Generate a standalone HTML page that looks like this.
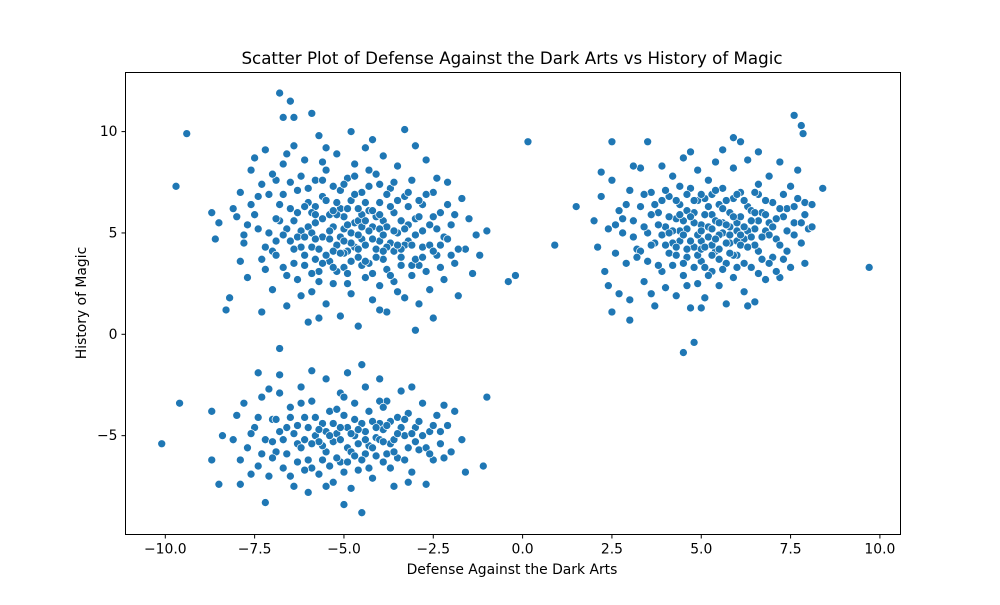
<!DOCTYPE html>
<html><head><meta charset="utf-8"><style>
body{margin:0;background:#fff;font-family:"Liberation Sans","DejaVu Sans",sans-serif}
svg text{font-family:"DejaVu Sans","Liberation Sans",sans-serif;fill:#000}
</style></head><body>
<svg id="chart" width="1000" height="600" xmlns="http://www.w3.org/2000/svg">
<rect width="1000" height="600" fill="#fff"/>
<text x="512" y="64" font-size="16.7" text-anchor="middle">Scatter Plot of Defense Against the Dark Arts vs History of Magic</text>
<g id="points"></g>
<rect x="125.5" y="72.5" width="775" height="462" fill="none" stroke="#000" stroke-width="1"/>
<g id="ticks"></g>
<text x="512" y="574" font-size="13.9" text-anchor="middle">Defense Against the Dark Arts</text>
<text transform="translate(86,303) rotate(-90)" font-size="13.9" text-anchor="middle">History of Magic</text>
</svg>
<script>
const xTicks=[-10,-7.5,-5,-2.5,0,2.5,5,7.5,10];
const xTickLabels=["−10.0","−7.5","−5.0","−2.5","0.0","2.5","5.0","7.5","10.0"];
const yTicks=[-5,0,5,10];
const yTickLabels=["−5","0","5","10"];
const points=[
[-9.7,7.3],[-9.4,9.9],[-8.7,6],[-8.6,4.7],[-8.2,1.8],[-8.3,1.2],[-6.8,11.9],[-6.5,11.5],[-6.7,10.7],[-6.4,10.7],[-5.9,10.9],[-4.8,10],[-3.3,10.1],[-1,5.1],[-1.2,3.9],[-0.4,2.6],[-0.2,2.9],[0.15,9.5],[0.9,4.4],[-6.8,-0.7],
[-8.1,6.2],[-8,5.8],[-7.9,7],[-7.8,4.5],[-7.7,2.8],[-7.6,6.4],[-7.5,8.7],[-7.4,5.2],[-7.3,3.7],[-7.2,9.1],[-7.1,6.9],[-7,4.1],[-7,2.2],[-6.9,7.6],[-6.8,5.6],[-6.7,3.3],[-6.7,8.4],[-6.6,1.4],[-6.5,6.2],[-6.5,4.6],[-6.4,9.3],[-6.3,2.7],[-6.3,7.1],[-6.2,5.1],[-6.1,3.9],[-6.1,8.6],[-6,6.5],[-6,0.6],[-5.9,4.3],[-5.9,2.1],[-5.8,7.6],[-5.8,5.5],[-5.7,9.8],[-5.7,3.1],[-5.6,6.8],[-5.6,4.8],[-5.5,1.5],[-5.5,8.1],[-5.4,5.9],[-5.4,3.6],[-5.3,7.3],[-5.3,2.5],[-5.2,4.4],[-5.2,8.9],[-5.1,6.2],[-5.1,0.9],[-5,5.2],[-5,3.3],[-4.9,7.7],[-4.9,4.1],[-4.8,2],[-4.8,6.6],[-4.7,8.4],[-4.7,5.5],[-4.6,3.8],[-4.6,0.4],[-4.5,7],[-4.5,4.7],[-4.4,2.8],[-4.4,9.2],[-4.3,6.1],[-4.3,3.5],[-4.2,5.3],[-4.2,1.7],[-4.1,7.9],[-4.1,4.2],[-4,6.5],[-4,2.4],[-3.9,8.8],[-3.9,5.6],[-3.8,3.2],[-3.8,1.1],[-3.7,7.2],[-3.7,4.5],[-3.6,6],[-3.6,2.6],[-3.5,8.3],[-3.5,5],[-3.4,3.8],[-3.3,6.8],[-3.3,1.8],[-3.2,4.6],[-3.1,7.6],[-3.1,2.9],[-3,5.7],[-3,0.2],[-2.9,3.4],[-2.8,6.4],[-2.8,4.3],[-2.7,8.6],[-2.6,2.2],[-2.6,5.4],[-2.5,7],[-2.5,0.8],[-2.4,3.9],[-2.3,6],[-2.2,4.8],[-2.2,2.7],[-2.1,7.5],[-2,5.4],[-1.9,3.5],[-1.8,1.9],[-1.7,6.7],[-1.6,4.2],[-1.5,5.7],[-1.4,3],
[-7.8,4.9],[-7.5,5.9],[-7.3,7.4],[-7.1,5],[-6.9,3.9],[-6.8,6.4],[-6.6,5.2],[-6.4,3.5],[-6.3,6],[-6.2,4.3],[-6,7.2],[-6,5.3],[-5.9,3],[-5.8,6.3],[-5.7,4.2],[-5.6,5.7],[-5.5,3.9],[-5.5,6.6],[-5.4,4.7],[-5.3,5.3],[-5.2,3.1],[-5.2,6.5],[-5.1,4.8],[-5,5.8],[-5,4],[-4.9,6.2],[-4.9,3],[-4.8,5],[-4.7,4.3],[-4.7,6.9],[-4.6,5.6],[-4.5,3.4],[-4.5,5.9],[-4.4,4.4],[-4.3,7.3],[-4.3,5.1],[-4.2,3],[-4.1,5.8],[-4,4.6],[-4,7.4],[-3.9,3.7],[-3.8,5.3],[-3.7,6.3],[-3.6,4.1],[-3.5,2.1],[-3.4,5.6],[-3.3,4.4],[-3.2,6.3],[-3.1,3.4],[-3,4.9],[-2.9,6.6],[-2.7,3.1],[-2.6,4.4],[-2.4,5.2],[-2.3,3.3],[-2.1,4.7],[-1.9,5.9],[-1.8,4.2],
[-7.2,4.3],[-6.9,5.7],[-6.7,4.9],[-6.5,7.5],[-6.3,4.8],[-6.1,6.3],[-5.9,5],[-5.8,3.7],[-5.6,7.6],[-5.3,4.1],[-5.1,7.1],[-4.9,5.4],[-4.8,3.6],[-4.6,4.9],[-4.4,6.5],[-4.2,4.7],[-4,5.2],[-3.8,4.3],[-3.6,7.5],[-3.4,4.2],[-3.2,5.4],[-3,3.7],[-2.8,5.1],[-2.5,4.1],[-6.6,8.9],[-5.5,9.2],[-4.2,9.6],[-3,9.3],[-7.6,8.1],[-2.4,7.7],[-7.9,3.6],[-8.5,5.5],[-1.3,4.9],[-6.2,1.9],[-4,1.2],[-2.9,1.5],[-5.7,0.8],[-7.3,1.1],
[-7.7,5.4],[-7.4,6.8],[-7.2,3.2],[-7,7.9],[-6.9,4.6],[-6.7,6.9],[-6.6,2.9],[-6.4,5.6],[-6.2,7.8],[-6.1,3.4],[-5.9,6],[-5.8,4.7],[-5.7,2.6],[-5.6,8.5],[-5.4,5.1],[-5.3,3.3],[-5.2,5.9],[-5.1,4],[-5,7.4],[-4.9,2.5],[-4.8,4.5],[-4.7,7.8],[-4.6,6.2],[-4.5,5.3],[-4.4,3.6],[-4.3,8.1],[-4.2,6.1],[-4.1,3.8],[-4,5.9],[-3.9,4.1],[-3.8,6.9],[-3.7,2.9],[-3.6,5.1],[-3.5,6.6],[-3.4,3.4],[-3.3,5.2],[-3.2,7],[-3.1,4.4],[-2.9,5.8],[-2.8,3.8],[-2.7,6.9],[-2.5,5.8],[-2.3,4.4],[-2.1,6.4],[-2,3.9],[-6.4,4.2],[-5.6,3.5],[-5,4.6],[-4.4,5.6],[-3.9,4.9],[-5.3,6.1],[-4.6,4.2],[-6.1,4.8],[-3.5,4.4],[-5.8,5.9],
[2,5.6],[2.1,4.3],[2.2,6.8],[2.3,3.1],[2.4,5.2],[2.5,7.6],[2.6,4],[2.7,2],[2.7,6.1],[2.8,5],[2.9,3.5],[3,7.1],[3,1.7],[3.1,5.6],[3.2,4.2],[3.3,8.2],[3.3,6.3],[3.4,2.6],[3.5,5],[3.5,3.6],[3.6,7],[3.7,4.5],[3.7,1.4],[3.8,6],[3.9,3.1],[3.9,8.3],[4,5.3],[4,2.3],[4.1,6.8],[4.1,4],[4.2,7.8],[4.2,3.4],[4.3,5.7],[4.3,1.9],[4.4,4.6],[4.4,6.4],[4.5,8.7],[4.5,2.9],[4.6,5.2],[4.6,3.8],[4.7,7.2],[4.7,1.3],[4.8,6],[4.8,4.3],[4.9,2.5],[4.9,8.1],[5,5.4],[5,3.6],[5.1,6.7],[5.1,1.8],[5.2,4.8],[5.2,7.6],[5.3,3.1],[5.3,5.9],[5.4,8.5],[5.4,4.1],[5.5,6.4],[5.5,2.4],[5.6,5],[5.6,7.2],[5.7,3.5],[5.7,1.5],[5.8,6],[5.8,4.5],[5.9,8.2],[5.9,2.8],[6,5.5],[6,3.9],[6.1,7],[6.2,4.7],[6.2,2.1],[6.3,6.3],[6.3,8.6],[6.4,3.3],[6.5,5.2],[6.5,1.6],[6.6,7.4],[6.6,4.1],[6.7,6],[6.8,2.7],[6.8,5.1],[6.9,7.8],[7,3.8],[7,6.5],[7.1,4.7],[7.2,8.5],[7.2,2.8],[7.3,5.8],[7.4,4.1],[7.5,7.3],[7.5,3.3],[7.6,5.5],[7.7,6.7],[7.8,4.5],[7.9,3.5],[7.9,6.5],[8,5.2],[8.1,5.3],[7.7,8.1],
[1.5,6.3],[9.7,3.3],[7.6,10.8],[7.8,10.3],[7.85,9.9],[8.4,7.2],[4.5,-0.9],[4.8,-0.4],[2.5,1.1],[3,0.7],[2.5,9.5],[3.5,9.5],[5.9,9.7],[6.1,9.5],[6.6,9],
[2.8,5.7],[3.1,4.8],[3.4,6.9],[3.6,4.4],[3.8,5.4],[3.9,4.9],[4.1,5.8],[4.2,4.5],[4.3,6.6],[4.4,5.1],[4.5,3.5],[4.6,6.1],[4.7,4.6],[4.8,5.5],[4.9,3.9],[4.9,6.6],[5,4.6],[5.1,5.9],[5.1,3.3],[5.2,5.3],[5.3,4.4],[5.3,6.9],[5.4,5.6],[5.5,3.7],[5.5,4.9],[5.6,6.2],[5.7,4.5],[5.8,5.3],[5.9,3.9],[5.9,6.7],[6,4.6],[6.1,5.8],[6.2,3.5],[6.3,5.1],[6.4,6.1],[6.5,4.4],[6.6,5.6],[6.7,3.7],[6.8,6.6],[6.9,4.9],[7.1,5.7],[7.2,4.4],[7.4,6.2],[7.6,4.9],[3.3,4.1],[3.6,5.9],[4,4.4],[4.2,5.1],[4.5,5.6],[4.6,4.2],[4.8,6.6],[5,4.2],[5.2,6.3],[5.4,4.7],[5.6,5.5],[5.8,4],[6,6.9],[6.2,5.3],[6.4,4.8],[6.6,6.9],[6.9,5.5],[7.1,3.1],[7.3,6.9],[5.6,9.1],[4.7,9],[3.1,8.3],[2.2,8],[8.1,6.4],[7.9,5.9],[2.4,2.4],[3.6,2],[5,1.3],[6.3,1.4],
[2.6,5.4],[2.9,6.4],[3.2,3.8],[3.4,5.3],[3.7,6.4],[3.8,3.4],[4,7.1],[4.1,5],[4.3,3.9],[4.4,7.3],[4.5,4.9],[4.6,2.4],[4.7,5.8],[4.8,3.3],[4.9,4.9],[5,6.9],[5.1,4.3],[5.2,2.9],[5.3,5.2],[5.4,7.1],[5.5,5.5],[5.6,3.2],[5.7,6.6],[5.8,4.9],[5.9,5.8],[6,3.3],[6.1,4.4],[6.2,6.6],[6.3,4.3],[6.4,5.6],[6.5,7],[6.6,3],[6.7,4.8],[6.8,5.9],[6.9,3.5],[7,5.3],[7.2,6.2],[7.3,3.7],[7.4,5.1],[7.6,6.3],[7.8,5.5],[3.9,6.6],[4.3,4.3],[4.6,6.9],[5,5.1],[5.3,3.9],[5.7,5.4],[6,5.1],[6.5,6],[4.4,5.9],[5.5,4.2],[6.1,4.9],
[-10.1,-5.4],[-9.6,-3.4],[-8.7,-3.8],[-8.7,-6.2],[-8.5,-7.4],[-7.9,-7.4],[-7.2,-8.3],[-4.5,-8.8],[-5,-8.4],[-4.5,-1.5],[-1,-3.1],[-1.1,-6.5],[-1.6,-6.8],[-6.8,-2],[-7.4,-1.9],
[-8.4,-5],[-8.1,-5.2],[-7.9,-6.2],[-7.8,-3.4],[-7.7,-5.6],[-7.5,-4.6],[-7.4,-6.5],[-7.3,-3.1],[-7.2,-5.2],[-7.1,-7],[-7,-4.2],[-6.9,-5.8],[-6.8,-2.9],[-6.7,-6.6],[-6.6,-4.6],[-6.5,-3.6],[-6.4,-7.5],[-6.3,-5.4],[-6.2,-2.6],[-6.1,-4.1],[-6,-6.2],[-6,-7.8],[-5.9,-3.3],[-5.8,-5],[-5.7,-6.9],[-5.6,-4.4],[-5.5,-2.2],[-5.5,-5.8],[-5.4,-3.8],[-5.3,-7.3],[-5.2,-4.9],[-5.1,-2.9],[-5.1,-6.3],[-5,-4],[-4.9,-5.6],[-4.9,-1.9],[-4.8,-7.6],[-4.7,-3.4],[-4.7,-5],[-4.6,-6.7],[-4.5,-4.4],[-4.4,-2.6],[-4.4,-5.9],[-4.3,-3.8],[-4.2,-7.1],[-4.1,-5.1],[-4,-2.2],[-4,-4.4],[-3.9,-6.3],[-3.8,-3.3],[-3.7,-5.4],[-3.6,-7.5],[-3.5,-4.1],[-3.5,-6.1],[-3.4,-2.8],[-3.3,-5],[-3.2,-3.9],[-3.1,-6.8],[-3,-4.6],[-2.9,-5.7],[-2.8,-3.4],[-2.7,-7.4],[-2.6,-4.8],[-2.5,-6.2],[-2.4,-4],[-2.3,-5.4],[-2.2,-6.1],[-2.1,-4.5],[-2,-5.8],[-1.9,-3.8],[-1.7,-5.2],
[-7.6,-4.9],[-7.3,-5.9],[-7,-5.3],[-6.8,-4.8],[-6.6,-5.9],[-6.4,-4.9],[-6.3,-6.3],[-6.1,-5.2],[-6,-4.6],[-5.9,-6.6],[-5.8,-4.1],[-5.6,-5.5],[-5.5,-4.8],[-5.4,-6.5],[-5.3,-5.3],[-5.2,-3.7],[-5.1,-5.2],[-5,-6.8],[-4.9,-4.6],[-4.8,-5.8],[-4.7,-4.2],[-4.6,-5.4],[-4.5,-6.2],[-4.4,-4.8],[-4.3,-5.5],[-4.2,-4.3],[-4.1,-6],[-4,-5.2],[-3.9,-4.7],[-3.8,-5.9],[-3.7,-4.3],[-3.6,-5.2],[-3.4,-4.6],[-3.3,-6.2],[-3.1,-4.9],[-2.9,-4.3],[-2.7,-5.6],[-2.5,-4.5],[-6.9,-4.2],[-6.2,-5.6],[-5.7,-5.3],[-5.2,-6.1],[-4.7,-6],[-4.3,-6.6],[-3.7,-6.6],[-3,-5.3],[-5.5,-7.5],[-3.2,-7.3],[-6.5,-7],[-7.6,-6.9],[-2.2,-3.5],[-8,-4],[-7.1,-2.7],[-5.9,-1.8],[-4,-3.3],[-3.1,-2.6],
[-7.4,-4.1],[-7,-6.1],[-6.7,-5.2],[-6.5,-4.1],[-6.3,-4.5],[-6.1,-6.7],[-5.9,-5.4],[-5.7,-4.7],[-5.6,-6.2],[-5.4,-5],[-5.3,-4.4],[-5.1,-4.6],[-4.9,-6.3],[-4.8,-4.9],[-4.6,-4.7],[-4.4,-5.2],[-4.2,-5.6],[-4.1,-4.6],[-3.9,-5.3],[-3.8,-4.5],[-3.6,-5.8],[-3.5,-4.9],[-3.3,-4.2],[-3.2,-5.6],[-2.8,-5],[-2.6,-5.9],[-2.3,-4.8],[-6.2,-3.4],[-5,-3.1],[-3.9,-3.6]
];
const NS='http://www.w3.org/2000/svg';
const L=125.5,R=900.5,T=72.5,B=534.5;
function xs(v){return 522.6+v*35.73;}
function ys(v){return 334.3-v*20.27;}
const g=document.getElementById('points');
points.forEach((p,i)=>{
  const c=document.createElementNS(NS,'circle');
  c.setAttribute('cx',xs(p[0]));c.setAttribute('cy',ys(p[1]));c.setAttribute('r',4);
  c.setAttribute('fill','#1f77b4');c.setAttribute('stroke','#fff');c.setAttribute('stroke-width','0.7');
  
  
  g.appendChild(c);
});
const tg=document.getElementById('ticks');
xTicks.forEach((v,i)=>{
  const x=xs(v);
  const l=document.createElementNS(NS,'line');
  l.setAttribute('x1',x);l.setAttribute('x2',x);l.setAttribute('y1',B);l.setAttribute('y2',B+4);l.setAttribute('stroke','#000');
  
  
  tg.appendChild(l);
  const t=document.createElementNS(NS,'text');
  t.setAttribute('x',x);t.setAttribute('y',B+19);t.setAttribute('font-size','13.9');t.setAttribute('text-anchor','middle');
  t.textContent=xTickLabels[i];
  
  
  tg.appendChild(t);
});
yTicks.forEach((v,i)=>{
  const y=ys(v);
  const l=document.createElementNS(NS,'line');
  l.setAttribute('x1',L-4);l.setAttribute('x2',L);l.setAttribute('y1',y);l.setAttribute('y2',y);l.setAttribute('stroke','#000');
  
  
  tg.appendChild(l);
  const t=document.createElementNS(NS,'text');
  t.setAttribute('x',L-8);t.setAttribute('y',y+4.5);t.setAttribute('font-size','13.9');t.setAttribute('text-anchor','end');
  t.textContent=yTickLabels[i];
  
  
  tg.appendChild(t);
});
</script>
</body></html>
